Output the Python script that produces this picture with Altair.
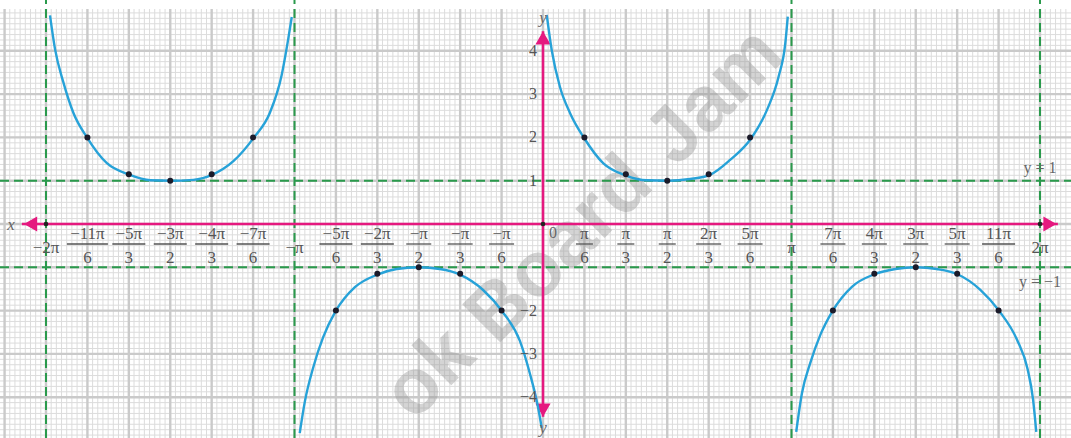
import altair as alt
import numpy as np
import pandas as pd

# ---------------- data (x in units of pi) ----------------
branch_a_x = [-1.984, -1.964, -1.930, -1.890, -1.834, -1.756, -1.665, -1.58, -1.498, -1.407, -1.33, -1.246, -1.163, -1.099, -1.052, -1.025, -1.011]
branch_a_y = [4.82, 4.05, 3.27, 2.57, 1.99, 1.41, 1.14, 1.01, 1.0, 1.02, 1.14, 1.45, 2.0, 2.57, 3.43, 4.28, 4.78]
branch_b_x = [-0.979, -0.958, -0.925, -0.885, -0.835, -0.757, -0.667, -0.589, -0.50, -0.415, -0.334, -0.240, -0.164, -0.093, -0.052, -0.025, -0.005]
branch_b_y = [-4.83, -4.09, -3.32, -2.62, -2.02, -1.46, -1.17, -1.04, -1.0, -1.04, -1.17, -1.53, -2.02, -2.70, -3.47, -4.09, -4.71]
branch_c_x = [0.015, 0.035, 0.068, 0.109, 0.166, 0.243, 0.334, 0.418, 0.505, 0.592, 0.670, 0.753, 0.838, 0.901, 0.948, 0.975, 0.985]
branch_c_y = [4.83, 4.02, 3.17, 2.56, 1.98, 1.40, 1.12, 1.01, 1.0, 1.04, 1.13, 1.48, 1.98, 2.63, 3.40, 4.17, 4.79]
branch_d_x = [1.019, 1.042, 1.075, 1.116, 1.165, 1.243, 1.334, 1.418, 1.501, 1.585, 1.668, 1.760, 1.836, 1.908, 1.950, 1.972, 1.985]
branch_d_y = [-4.80, -3.91, -3.22, -2.56, -2.01, -1.45, -1.16, -1.04, -1.0, -1.04, -1.16, -1.52, -2.01, -2.68, -3.35, -4.05, -4.80]

dot_x = [-11/6, -5/3, -3/2, -4/3, -7/6, -5/6, -2/3, -1/2, -1/3, -1/6,
         1/6, 1/3, 1/2, 2/3, 5/6, 7/6, 4/3, 3/2, 5/3, 11/6]
dot_y = [2, 1.15, 1, 1.15, 2, -2, -1.15, -1, -1.15, -2,
         2, 1.15, 1, 1.15, 2, -2, -1.15, -1, -1.15, -2]

tick_pos = [-2, -11/6, -5/3, -3/2, -4/3, -7/6, -1, -5/6, -2/3, -1/2, -1/3, -1/6,
            1/6, 1/3, 1/2, 2/3, 5/6, 1, 7/6, 4/3, 3/2, 5/3, 11/6, 2]
tick_num = ["−2π", "−11π", "−5π", "−3π", "−4π", "−7π", "−π", "−5π", "−2π", "−π", "−π", "−π",
            "π", "π", "π", "2π", "5π", "π", "7π", "4π", "3π", "5π", "11π", "2π"]
tick_den = ["", "6", "3", "2", "3", "6", "", "6", "3", "2", "3", "6",
            "6", "3", "2", "3", "6", "", "6", "3", "2", "3", "6", ""]

ytick_vals = [4, 3, 2, 1, -2, -3, -4]
ytick_text = ["4", "3", "2", "1", "−2", "−3", "−4"]

asymptotes_x = [-2, -1, 1, 2]
bounds_y = [1, -1]

# ---------------- geometry ----------------
W, H = 1071, 438
X0, XPI = 543.0, 248.5
Y0, YU = 224.0, 43.3
xdom = [-X0 / XPI, (W - X0) / XPI]
ydom = [(Y0 - H) / YU, Y0 / YU]
grid_top = (Y0 - 9) / YU

xs = alt.Scale(domain=xdom, nice=False, zero=False)
ys = alt.Scale(domain=ydom, nice=False, zero=False)


def X(f="x"):
    return alt.X(f"{f}:Q", scale=xs, axis=None)


def Y(f="y"):
    return alt.Y(f"{f}:Q", scale=ys, axis=None)


PINK = "#e5197f"
GREEN = "#2a9a4c"
BLUE = "#27a2d8"
TXT = "#555555"
SERIF = "Liberation Serif"
FS = 17

# ---------------- graph paper ----------------
fx = np.arange(-2.25, 2.25, 1 / 48)
fx = fx[(fx > xdom[0]) & (fx < xdom[1])]
fy = np.arange(-5, 5.01, 1 / 8)
fy = fy[(fy > ydom[0]) & (fy < grid_top)]
mx = np.array([k / 6 for k in range(-13, 13)])
my = np.arange(-4, 5)

vfine = pd.DataFrame({"x": fx, "y": ydom[0], "y2": grid_top})
hfine = pd.DataFrame({"y": fy, "x": xdom[0], "x2": xdom[1]})
vmaj = pd.DataFrame({"x": mx, "y": ydom[0], "y2": grid_top})
hmaj = pd.DataFrame({"y": my, "x": xdom[0], "x2": xdom[1]})

g1 = alt.Chart(vfine).mark_rule(color="#dcdcdc", strokeWidth=1).encode(x=X(), y=Y(), y2="y2:Q")
g2 = alt.Chart(hfine).mark_rule(color="#dcdcdc", strokeWidth=1).encode(y=Y(), x=X(), x2="x2:Q")
g3 = alt.Chart(vmaj).mark_rule(color="#cacaca", strokeWidth=2.4).encode(x=X(), y=Y(), y2="y2:Q")
g4 = alt.Chart(hmaj).mark_rule(color="#cacaca", strokeWidth=2.4).encode(y=Y(), x=X(), x2="x2:Q")

# ---------------- watermark ----------------
wm = pd.DataFrame({
    "t": ["ok", "Board", "Jam"],
    "x": [(462 - X0) / XPI, (560 - X0) / XPI, (660 - X0) / XPI],
    "y": [(Y0 - 342) / YU, (Y0 - 250) / YU, (Y0 - 152) / YU],
    "a": ["right", "center", "left"],
})
water_parts = []
for _, r in wm.iterrows():
    water_parts.append(
        alt.Chart(wm[wm["t"] == r["t"]]).mark_text(
            font="Liberation Sans", fontWeight="bold", fontSize=78, color="#9a9a9a",
            opacity=0.42, angle=315, align=r["a"], baseline="middle"
        ).encode(x=X(), y=Y(), text="t:N")
    )

# ---------------- green dashed lines ----------------
asy = pd.DataFrame({"x": asymptotes_x, "y": ydom[0], "y2": ydom[1]})
bnd = pd.DataFrame({"y": bounds_y, "x": xdom[0], "x2": xdom[1]})
ga = alt.Chart(asy).mark_rule(color=GREEN, strokeWidth=2, strokeDash=[9, 5]).encode(x=X(), y=Y(), y2="y2:Q")
gb = alt.Chart(bnd).mark_rule(color=GREEN, strokeWidth=2, strokeDash=[9, 5]).encode(y=Y(), x=X(), x2="x2:Q")

# ---------------- axes ----------------
ax_h = pd.DataFrame({"y": [0], "x": [-2.097], "x2": [2.072]})
ax_v = pd.DataFrame({"x": [0], "y": [-4.45], "y2": [4.45]})
axh = alt.Chart(ax_h).mark_rule(color=PINK, strokeWidth=2.6).encode(y=Y(), x=X(), x2="x2:Q")
axv = alt.Chart(ax_v).mark_rule(color=PINK, strokeWidth=2.6).encode(x=X(), y=Y(), y2="y2:Q")
arr = pd.DataFrame({
    "x": [-2.062, 2.040, 0, 0],
    "y": [0, 0, 4.30, -4.30],
    "s": ["triangle-left", "triangle-right", "triangle-up", "triangle-down"],
})
arrows = alt.Chart(arr).mark_point(filled=True, opacity=1, color=PINK, size=230).encode(
    x=X(), y=Y(), shape=alt.Shape("s:N", scale=None, legend=None))
orig = pd.DataFrame({"x": [-2, 0, 2], "y": [0, 0, 0]})
origin_dots = alt.Chart(orig).mark_point(filled=True, opacity=1, color="#222222", size=22).encode(x=X(), y=Y())

# ---------------- curves ----------------
rows = []
for name, bx, by in [("a", branch_a_x, branch_a_y), ("b", branch_b_x, branch_b_y),
                     ("c", branch_c_x, branch_c_y), ("d", branch_d_x, branch_d_y)]:
    for i, (a, b) in enumerate(zip(bx, by)):
        rows.append({"branch": name, "i": i, "x": a, "y": b})
curve_df = pd.DataFrame(rows)
curves = alt.Chart(curve_df).mark_line(color=BLUE, strokeWidth=2.4, interpolate="monotone").encode(
    x=X(), y=Y(), detail="branch:N", order="i:Q")

dots = alt.Chart(pd.DataFrame({"x": dot_x, "y": dot_y})).mark_point(
    filled=True, opacity=1, color="#1b1b2a", size=36).encode(x=X(), y=Y())

# ---------------- tick labels ----------------
tk = pd.DataFrame({"x": tick_pos, "num": tick_num, "den": tick_den, "y": 0})
tk["w"] = [(9 + 8 * len(n)) / XPI for n in tick_num]
tk["x1"] = tk["x"] - tk["w"] / 2
tk["x2"] = tk["x"] + tk["w"] / 2
frac = tk[tk["den"] != ""]
single = tk[tk["den"] == ""]

num_txt = alt.Chart(frac).mark_text(font=SERIF, fontSize=FS, color=TXT, baseline="middle", dy=10).encode(
    x=X(), y=Y(), text="num:N")
den_txt = alt.Chart(frac).mark_text(font=SERIF, fontSize=FS, color=TXT, baseline="middle", dy=34).encode(
    x=X(), y=Y(), text="den:N")
bars = alt.Chart(frac).mark_rule(color=TXT, strokeWidth=1.3, yOffset=20).encode(
    x=X("x1"), x2="x2:Q", y=Y())
single_txt = alt.Chart(single).mark_text(font=SERIF, fontSize=FS, color=TXT, baseline="middle", dy=24).encode(
    x=X(), y=Y(), text="num:N")

yt = pd.DataFrame({"y": ytick_vals, "t": ytick_text, "x": 0})
ylab = alt.Chart(yt).mark_text(font=SERIF, fontSize=16, color=TXT, align="right", baseline="middle", dx=-6).encode(
    x=X(), y=Y(), text="t:N")

misc = pd.DataFrame({"t": ["y = 1", "y = −1", "0"], "x": [2, 2, 0], "y": [1, -1, 0]})
m1 = alt.Chart(misc.iloc[[0]]).mark_text(font=SERIF, fontSize=16, color="#666666", dy=-13).encode(x=X(), y=Y(), text="t:N")
m2 = alt.Chart(misc.iloc[[1]]).mark_text(font=SERIF, fontSize=16, color="#666666", dy=15).encode(x=X(), y=Y(), text="t:N")
m3 = alt.Chart(misc.iloc[[2]]).mark_text(font=SERIF, fontSize=16, color="#666666", dy=9, dx=10).encode(x=X(), y=Y(), text="t:N")

ax_lab = pd.DataFrame({"t": ["x", "y", "y"], "x": [-2.097, 0, 0], "y": [0, 4.45, -4.45]})
xl = alt.Chart(ax_lab.iloc[[0]]).mark_text(font=SERIF, fontStyle="italic", fontSize=17, color="#666666", dx=-11, dy=1).encode(x=X(), y=Y(), text="t:N")
yl1 = alt.Chart(ax_lab.iloc[[1]]).mark_text(font=SERIF, fontStyle="italic", fontSize=17, color="#666666", dy=-13).encode(x=X(), y=Y(), text="t:N")
yl2 = alt.Chart(ax_lab.iloc[[2]]).mark_text(font=SERIF, fontStyle="italic", fontSize=17, color="#666666", dy=11).encode(x=X(), y=Y(), text="t:N")

chart = alt.layer(
    g1, g2, g3, g4, *water_parts, ga, gb, axh, axv, arrows, curves, dots, origin_dots,
    num_txt, den_txt, bars, single_txt, ylab, m1, m2, m3, xl, yl1, yl2
).properties(
    width=W, height=H, padding=0, autosize=alt.AutoSizeParams(type="none"), background="white"
).configure_view(stroke=None)

chart.save("out.html", embed_options={"renderer": "svg", "actions": False})
